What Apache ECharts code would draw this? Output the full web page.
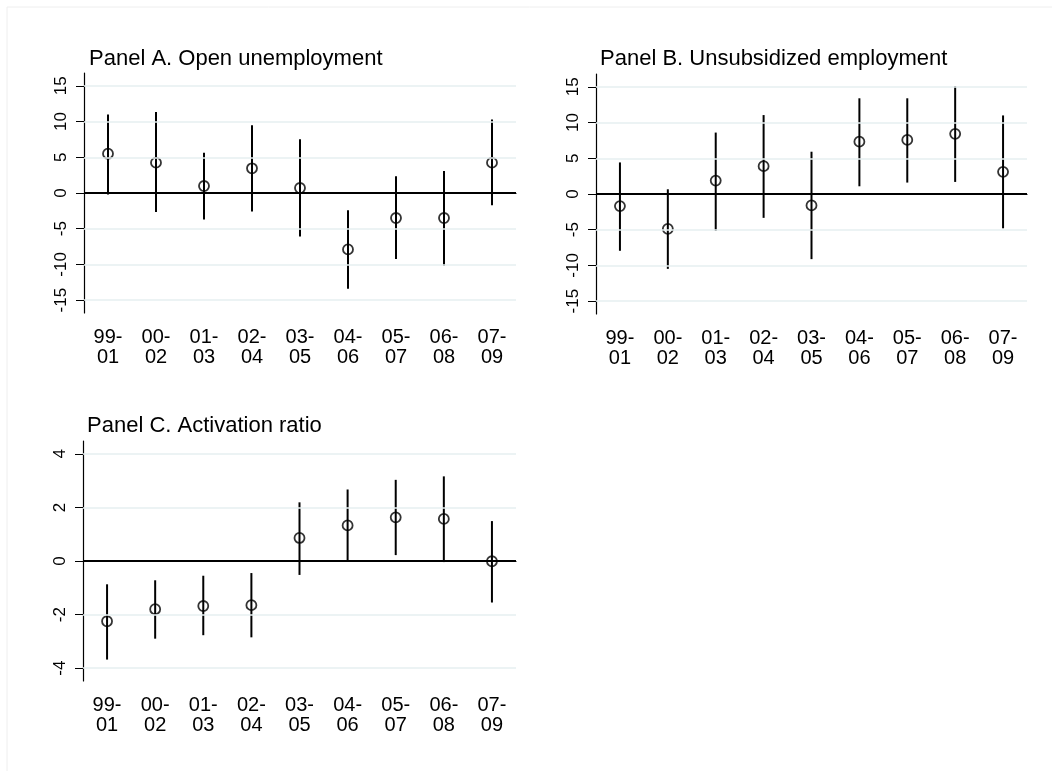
<!DOCTYPE html>
<html>
  <head>
    <meta charset="UTF-8" />
    <title>Panels A-C</title>
    <style>
      html, body { margin: 0; padding: 0; background: #fff; }
      #main { width: 1052px; height: 771px; }
    </style>
  </head>
  <body>
    <div id="main"></div>
    <script src="https://cdn.jsdelivr.net/npm/echarts@6/dist/echarts.min.js"></script>
    <script>
      // periods on the x axis
      const periods = ['99-01', '00-02', '01-03', '02-04', '03-05', '04-06', '05-07', '06-08', '07-09']

      // Panel A. Open unemployment
      const aPoint = [5.5, 4.25, 0.98, 3.46, 0.7, -7.9, -3.5, -3.5, 4.25]
      const aLow = [-0.2, -2.66, -3.7, -2.6, -6.1, -13.4, -9.25, -10.2, -1.7]
      const aHigh = [11.0, 11.35, 5.65, 9.49, 7.52, -2.43, 2.34, 3.08, 10.3]

      // Panel B. Unsubsidized employment
      const bPoint = [-1.69, -4.89, 1.88, 3.9, -1.6, 7.33, 7.57, 8.42, 3.1]
      const bLow = [-7.95, -10.48, -5.17, -3.34, -9.12, 1.08, 1.6, 1.69, -4.8]
      const bHigh = [4.42, 0.66, 8.6, 11.05, 5.92, 13.4, 13.4, 15.09, 11.0]

      // Panel C. Activation ratio
      const cPoint = [-2.25, -1.8, -1.68, -1.65, 0.86, 1.33, 1.63, 1.57, -0.01]
      const cLow = [-3.68, -2.9, -2.77, -2.85, -0.52, 0.0, 0.22, -0.04, -1.55]
      const cHigh = [-0.87, -0.72, -0.55, -0.45, 2.19, 2.67, 3.03, 3.16, 1.49]

      // tick labels
      const ticksAB = [-15, -10, -5, 0, 5, 10, 15]
      const ticksC = [-4, -2, 0, 2, 4]

      const font = "'Liberation Sans', Arial, Helvetica, sans-serif"
      const gridColor = '#e6eff1'

      const grids = [
        { left: 84, top: 73, width: 432, height: 240 },
        { left: 596, top: 74, width: 431, height: 240 },
        { left: 83, top: 441, width: 433, height: 240 },
      ]

      const panels = [
        { title: 'Panel A. Open unemployment', pt: aPoint, lo: aLow, hi: aHigh, ticks: ticksAB, lim: 16.8, tl: 89, tt: 48 },
        { title: 'Panel B. Unsubsidized employment', pt: bPoint, lo: bLow, hi: bHigh, ticks: ticksAB, lim: 16.8, tl: 600, tt: 48 },
        { title: 'Panel C. Activation ratio', pt: cPoint, lo: cLow, hi: cHigh, ticks: ticksC, lim: 4.48, tl: 87, tt: 415 },
      ]

      let title = []
      let xAxis = []
      let yAxis = []
      let series = []

      panels.forEach((p, i) => {
        title.push({
          text: p.title,
          left: p.tl,
          top: p.tt,
          padding: 0,
          textStyle: { fontFamily: font, fontSize: 22, fontWeight: 'normal', color: '#000', lineHeight: 22 },
        })
        xAxis.push({
          type: 'category',
          gridIndex: i,
          data: periods,
          boundaryGap: true,
          axisLine: { lineStyle: { color: '#000', width: 1.2 } },
          axisTick: { alignWithLabel: true, length: 8, lineStyle: { color: '#000', width: 1 } },
          axisLabel: {
            interval: 0,
            margin: 15,
            fontFamily: font,
            fontSize: 20,
            lineHeight: 19.5,
            color: '#000',
            formatter: (v) => v.replace('-', '-\n'),
          },
          splitLine: { show: false },
        })
        yAxis.push({
          type: 'value',
          gridIndex: i,
          min: -p.lim,
          max: p.lim,
          axisLine: { show: true, lineStyle: { color: '#000', width: 1.2 } },
          axisTick: { show: true, length: 8, customValues: p.ticks, lineStyle: { color: '#000', width: 1 } },
          axisLabel: {
            rotate: 90,
            margin: 14,
            fontFamily: font,
            fontSize: 17,
            color: '#000',
            customValues: p.ticks,
          },
          splitLine: { show: false },
        })
        // error bars
        series.push({
          type: 'custom',
          xAxisIndex: i,
          yAxisIndex: i,
          data: periods.map((c, k) => [k, p.lo[k], p.hi[k]]),
          renderItem: (params, api) => {
            const a = api.coord([api.value(0), api.value(1)])
            const b = api.coord([api.value(0), api.value(2)])
            return {
              type: 'line',
              shape: { x1: a[0], y1: a[1], x2: b[0], y2: b[1] },
              style: { stroke: '#000', lineWidth: 2 },
            }
          },
          z: 3,
          silent: true,
        })
        // point estimates, plus grid and zero lines
        series.push({
          type: 'scatter',
          xAxisIndex: i,
          yAxisIndex: i,
          data: p.pt.map((v, k) => [k, v]),
          symbol: 'circle',
          symbolSize: 10,
          itemStyle: { color: 'transparent', borderColor: '#000', borderWidth: 1.8 },
          z: 4,
          markLine: {
            silent: true,
            symbol: 'none',
            label: { show: false },
            animation: false,
            data: p.ticks
              .filter((t) => t !== 0)
              .map((t) => ({ yAxis: t, lineStyle: { color: gridColor, width: 1.6, type: 'solid' } }))
              .concat([{ yAxis: 0, lineStyle: { color: '#000', width: 2, type: 'solid' } }]),
          },
        })
      })

      const myChart = echarts.init(document.getElementById('main'))
      myChart.setOption({
        animation: false,
        backgroundColor: '#fff',
        title: title,
        grid: grids,
        xAxis: xAxis,
        yAxis: yAxis,
        series: series,
        graphic: [
          {
            type: 'polyline',
            shape: { points: [[7, 771], [7, 7], [1052, 7]] },
            style: { stroke: '#eeeeee', lineWidth: 1, fill: null },
            silent: true,
          },
        ],
      })
    </script>
  </body>
</html>
